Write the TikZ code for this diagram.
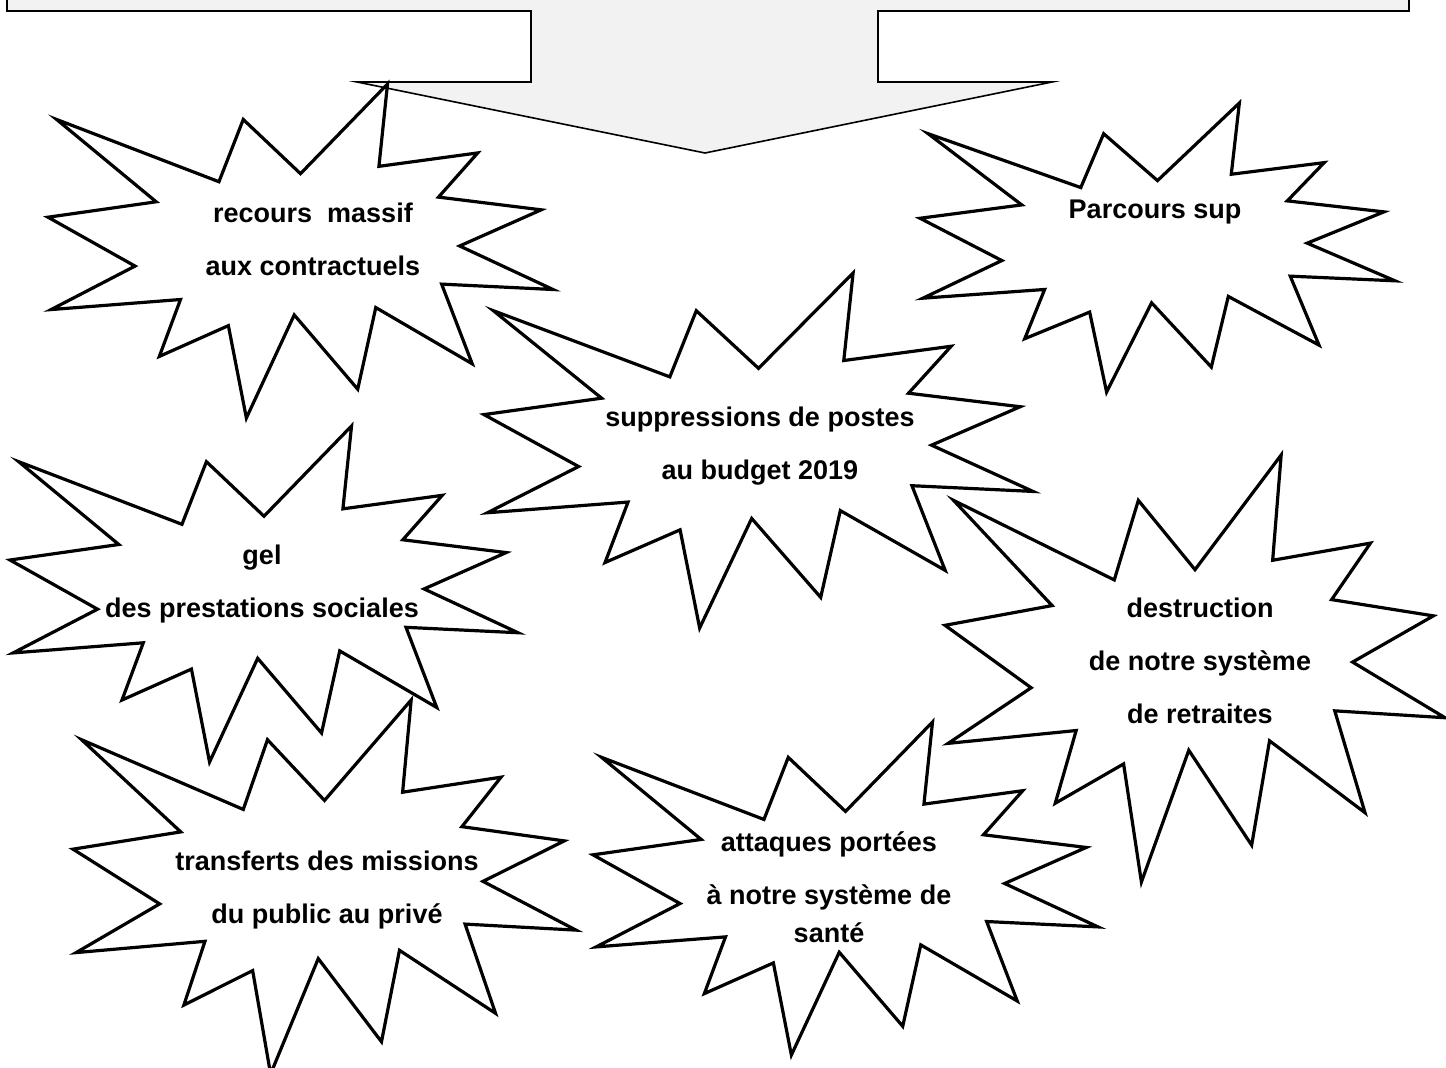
\documentclass[tikz,border=0pt]{standalone}
\usepackage{fontspec}
\setmainfont{Liberation Sans}

\definecolor{boxgray}{HTML}{F2F2F2}

\tikzset{
    burst/.pic={
        \draw[line width=3.2pt, fill=white]
            (108,58) -- (145.22,0) -- (141.55,53.25) -- (183.8,44.57) -- (167.02,73.15)
            -- (210.97,81.37) -- (176.07,104.75) -- (216,132.9) -- (168.37,129.42)
            -- (181.45,180.95) -- (140.2,144.57) -- (132.47,197.37) -- (105.32,149.35)
            -- (84.85,216) -- (77.15,156.27) -- (47.62,176.17) -- (56.67,139.37)
            -- (1.35,145.87) -- (37.22,117.75) -- (0,86.15) -- (46.27,76.17)
            -- (3.7,22.95) -- (73.12,63.2) -- (83.52,22.95) -- cycle;
    },
    bursttext/.style={font=\fontsize{27}{53}\selectfont\bfseries, align=center}
}

\begin{document}
\begin{tikzpicture}[x=1pt, y=-1pt]
    \useasboundingbox (0,0) rectangle (1446,1068);

    \draw[fill=boxgray, line width=1.6pt]
        (7,-20) -- (7,11) -- (531,11) -- (531,82) -- (357,82) -- (705,153)
        -- (1052,82) -- (878,82) -- (878,11) -- (1409,11) -- (1409,-20) -- cycle;

    \pic[xscale=505/216, yscale=334/216] at (48,84) {burst};
    \pic[xscale=475/216, yscale=289/216] at (920,103) {burst};
    \pic[xscale=549/216, yscale=355/216] at (484,273) {burst};
    \pic[xscale=508/216, yscale=336/216] at (10,426) {burst};
    \pic[xscale=500/216, yscale=427/216] at (945,455) {burst};
    \pic[xscale=503/216, yscale=374/216] at (73,700) {burst};
    \pic[xscale=505/216, yscale=333/216] at (593,722) {burst};

    \node[bursttext] (recours) at (313,239) {recours~~massif\\aux contractuels};
    \node[bursttext] (parcours) at (1155,212) {Parcours sup};
    \node[bursttext] (suppressions) at (760,446) {suppressions de postes\\au budget 2019};
    \node[bursttext] (gel) at (262,584) {gel\\des prestations sociales};
    \node[bursttext] (retraites) at (1200,661) {destruction\\de notre système\\de retraites};
    \node[bursttext] (transferts) at (327,890) {transferts des missions\\du public au privé};
    \node[bursttext] (sante) at (829,887) {attaques portées\\à notre système de\\[-15pt]santé};
\end{tikzpicture}
\end{document}
